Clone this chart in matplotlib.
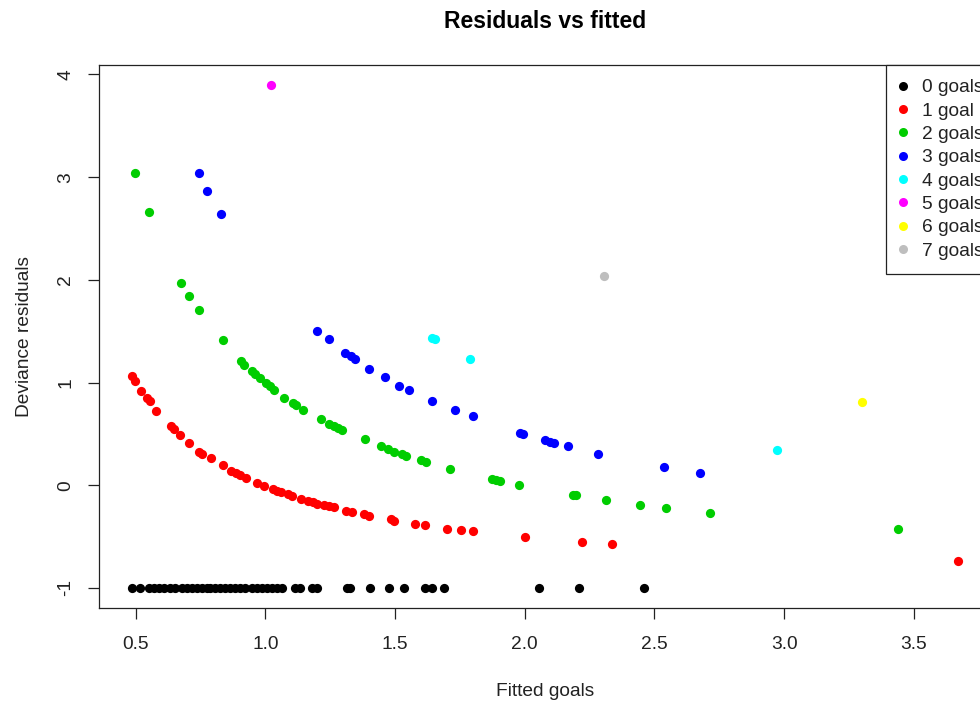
import matplotlib
matplotlib.use("Agg")
import matplotlib.pyplot as plt
from matplotlib.lines import Line2D

plt.rcParams['font.family'] = ['Liberation Sans', 'DejaVu Sans']

# Fitted goals / deviance residuals, grouped by the observed number of goals
fitted_0 = [0.485, 0.517, 0.549, 0.569, 0.588, 0.607, 0.633, 0.652, 0.678, 0.697,
            0.717, 0.736, 0.755, 0.775, 0.787, 0.807, 0.826, 0.845, 0.864, 0.884,
            0.903, 0.922, 0.948, 0.967, 0.987, 1.006, 1.025, 1.045, 1.064, 1.115,
            1.134, 1.180, 1.199, 1.315, 1.327, 1.402, 1.475, 1.535, 1.616, 1.642,
            1.687, 2.056, 2.208, 2.458]
resid_0 = [-1.0, -1.0, -1.0, -1.0, -1.0, -1.0, -1.0, -1.0, -1.0, -1.0,
           -1.0, -1.0, -1.0, -1.0, -1.0, -1.0, -1.0, -1.0, -1.0, -1.0,
           -1.0, -1.0, -1.0, -1.0, -1.0, -1.0, -1.0, -1.0, -1.0, -1.0,
           -1.0, -1.0, -1.0, -1.0, -1.0, -1.0, -1.0, -1.0, -1.0, -1.0,
           -1.0, -1.0, -1.0, -1.0]

fitted_1 = [0.485, 0.498, 0.520, 0.543, 0.553, 0.578, 0.636, 0.648, 0.669, 0.706,
            0.744, 0.756, 0.790, 0.836, 0.868, 0.886, 0.903, 0.925, 0.967, 0.996,
            1.029, 1.045, 1.060, 1.085, 1.102, 1.138, 1.164, 1.182, 1.199, 1.224,
            1.246, 1.263, 1.311, 1.334, 1.379, 1.400, 1.484, 1.494, 1.577, 1.615,
            1.700, 1.754, 1.800, 2.000, 2.221, 2.338, 3.671]
resid_1 = [1.061, 1.015, 0.917, 0.846, 0.816, 0.726, 0.572, 0.543, 0.487, 0.409,
           0.328, 0.306, 0.260, 0.198, 0.143, 0.120, 0.101, 0.071, 0.019, -0.011,
           -0.033, -0.053, -0.069, -0.089, -0.108, -0.131, -0.153, -0.167, -0.183, -0.196,
           -0.206, -0.216, -0.248, -0.265, -0.280, -0.297, -0.329, -0.346, -0.378, -0.388,
           -0.424, -0.437, -0.446, -0.505, -0.554, -0.577, -0.739]

fitted_2 = [0.498, 0.549, 0.674, 0.706, 0.744, 0.836, 0.906, 0.918, 0.948, 0.961,
            0.977, 1.002, 1.016, 1.034, 1.072, 1.106, 1.118, 1.145, 1.214, 1.244,
            1.263, 1.278, 1.295, 1.382, 1.447, 1.471, 1.494, 1.528, 1.541, 1.600,
            1.620, 1.712, 1.874, 1.890, 1.903, 1.976, 2.186, 2.199, 2.315, 2.443,
            2.545, 2.716, 3.439]
resid_2 = [3.040, 2.662, 1.972, 1.842, 1.705, 1.412, 1.207, 1.168, 1.112, 1.080,
           1.048, 0.995, 0.963, 0.924, 0.853, 0.804, 0.777, 0.735, 0.644, 0.599,
           0.572, 0.553, 0.533, 0.445, 0.377, 0.348, 0.328, 0.306, 0.289, 0.247,
           0.230, 0.162, 0.058, 0.048, 0.045, 0.001, -0.095, -0.095, -0.141, -0.189,
           -0.226, -0.270, -0.427]

fitted_3 = [0.744, 0.776, 0.827, 1.197, 1.244, 1.308, 1.330, 1.344, 1.400, 1.461,
            1.515, 1.555, 1.642, 1.729, 1.800, 1.980, 1.993, 2.079, 2.099, 2.111,
            2.167, 2.283, 2.536, 2.674]
resid_3 = [3.040, 2.864, 2.640, 1.503, 1.425, 1.288, 1.256, 1.233, 1.136, 1.054,
           0.970, 0.924, 0.819, 0.728, 0.670, 0.507, 0.501, 0.436, 0.423, 0.406,
           0.377, 0.306, 0.175, 0.116]

fitted_4 = [1.642, 1.652, 1.790, 2.974]
resid_4 = [1.429, 1.419, 1.229, 0.338]

fitted_5 = [1.021]
resid_5 = [3.896]

fitted_6 = [3.299]
resid_6 = [0.807]

fitted_7 = [2.304]
resid_7 = [2.040]

group_labels = ["0 goals", "1 goal", "2 goals", "3 goals",
                "4 goals", "5 goals", "6 goals", "7 goals"]
group_colors = ["black", "#FF0000", "#00CD00", "#0000FF",
                "#00FFFF", "#FF00FF", "#FFFF00", "#BEBEBE"]

fitted = [fitted_0, fitted_1, fitted_2, fitted_3, fitted_4, fitted_5, fitted_6, fitted_7]
resid = [resid_0, resid_1, resid_2, resid_3, resid_4, resid_5, resid_6, resid_7]

W, H = 980, 704
fig = plt.figure(figsize=(W / 100, H / 100), dpi=100)
# plot region runs a little past the right edge of the image, as in the reference
ax = fig.add_axes([99 / W, (H - 608) / H, (991 - 99) / W, (608 - 65) / H])

for xs, ys, col in zip(fitted, resid, group_colors):
    ax.scatter(xs, ys, s=44, color=col, linewidths=0, zorder=3)

ax.set_xlim(0.358, 3.798)
ax.set_ylim(-1.196, 4.092)
ax.set_xticks([0.5, 1.0, 1.5, 2.0, 2.5, 3.0, 3.5])
ax.set_xticklabels(["0.5", "1.0", "1.5", "2.0", "2.5", "3.0", "3.5"])
ax.set_yticks([-1, 0, 1, 2, 3, 4])
ax.set_yticklabels(["-1", "0", "1", "2", "3", "4"])

for sp in ax.spines.values():
    sp.set_linewidth(0.9)
    sp.set_color("#222222")
ax.tick_params(axis="both", direction="out", length=8, width=0.9,
               color="#222222", labelsize=13.8, labelcolor="#222222")
ax.tick_params(axis="x", pad=12)
ax.tick_params(axis="y", pad=10, labelrotation=90)
for lab in ax.get_yticklabels():
    lab.set_va("center")

ax.set_title("Residuals vs fitted", fontsize=16.5, fontweight="bold", pad=27)
ax.set_xlabel("Fitted goals", fontsize=13.8, color="#222222")
ax.set_ylabel("Deviance residuals", fontsize=13.8, color="#222222")
ax.xaxis.set_label_coords(0.5, -(692 - 608) / 543)
ax.xaxis.label.set_va("center")
ax.yaxis.set_label_coords(-(99 - 25) / 892, 0.5)
ax.yaxis.label.set_va("center")

handles = [Line2D([0], [0], marker="o", linestyle="none", markersize=6.5,
                  markerfacecolor=c, markeredgecolor="none") for c in group_colors]
leg = ax.legend(handles, group_labels, loc="upper left",
                bbox_to_anchor=(886 / W, 1 - 65 / H), bbox_transform=fig.transFigure,
                fontsize=13.8, frameon=True, fancybox=False, framealpha=1,
                borderpad=0.72, labelspacing=0.31, handlelength=0.33,
                handletextpad=0.82, borderaxespad=0)
leg.get_frame().set_edgecolor("#222222")
leg.get_frame().set_linewidth(0.9)
for t in leg.get_texts():
    t.set_color("#222222")

fig.savefig("out.png", dpi=100)
